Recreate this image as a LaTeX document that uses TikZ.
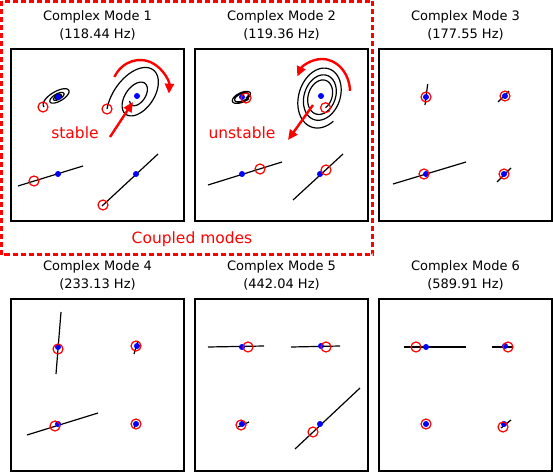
\documentclass[tikz,border=0pt]{standalone}
\usepackage{fontspec}
\setmainfont{DejaVu Sans}
\usetikzlibrary{positioning,arrows.meta}

% rest positions of the four masses in one panel
\newcommand{\restpts}[1]{%
  \foreach \n/\x/\y in {a/47/-48, b/126/-47, c/47/-125, d/125/-125}
    {\node[eqdot] (e#1\n) at (\x,\y) {};}}

\begin{document}
\begin{tikzpicture}
[x=1pt,y=1pt,
 panel/.style={draw=black, line width=1.3pt, minimum width=173pt, minimum height=172pt, inner sep=0pt, outer sep=0pt},
 title/.style={align=center, inner sep=0pt, font=\fontsize{13}{17.3}\selectfont},
 eqdot/.style={circle, fill=blue, inner sep=0pt, minimum size=6pt},
 startpt/.style={circle, draw=red, line width=1.2pt, inner sep=0pt, minimum size=10pt},
 traj/.style={black, line width=1.2pt},
 note/.style={text=red, inner sep=0pt, font=\fontsize{15.5}{18}\selectfont},
 spin/.style={red, line width=2.4pt, -{Triangle[length=10pt,width=9pt]}}]
\useasboundingbox (0,0) rectangle (553,-473);

% frames and titles
\foreach \i/\x/\y/\f in {1/11/49/118.44, 2/195/49/119.36, 3/379/49/177.55,
                         4/11/299/233.13, 5/195/299/442.04, 6/379/299/589.91}
{
  \node[panel] (p\i) at (\x+86.5,-\y-86) {};
  \node[title, above=9pt of p\i] (t\i) {Complex Mode \i\\(\f\ Hz)};
}

% coupled pair
\draw[red, line width=2.2pt, dash pattern=on 5pt off 3pt] (1.5,-1.5) rectangle (372.5,-254.5);
\node[note] (coupled) at (192,-239) {Coupled modes};

% mode 1
\begin{scope}[shift={(11,-49)}]
  \begin{scope}[shift={(47,-48)}, rotate=30]
    \draw[traj] plot[domain=0:1300, samples=200, smooth, variable=\t]
      ({17.4*exp(-\t/600)*cos(193-\t)}, {7.25*exp(-\t/600)*sin(193-\t)});
  \end{scope}
  \begin{scope}[shift={(126,-47)}, rotate=55]
    \draw[traj] plot[domain=0:707, samples=200, smooth, variable=\t]
      ({39.85*exp(-\t/500)*cos(134.3-\t)}, {23.9*exp(-\t/500)*sin(134.3-\t)});
  \end{scope}
  \draw[traj] (7,-137) -- (72,-117);
  \draw[traj] (91,-157) -- (147,-105);
  \restpts{1}
  \node[startpt] (s1a) at (32,-58) {};
  \node[startpt] (s1b) at (96,-60) {};
  \node[startpt] (s1c) at (23,-132) {};
  \node[startpt] (s1d) at (92,-156) {};
  \coordinate (c1) at (129,-43);
  \draw[spin] (c1) ++(152:29 and 32) arc[start angle=152, end angle=-3, x radius=29, y radius=32];
  \node[note] (stab) at (64,-84) {stable};
  \coordinate (stabS) at (99,-88);
  \coordinate (stabT) at (122,-53);
  \draw[spin] (stabS) -- (stabT);
\end{scope}

% mode 2
\begin{scope}[shift={(195,-49)}]
  \begin{scope}[shift={(47,-48)}, rotate=25]
    \draw[traj] plot[domain=0:720, samples=200, smooth, variable=\t]
      ({6.63*exp(\t/1300)*cos(-61+\t)}, {2.98*exp(\t/1300)*sin(-61+\t)});
  \end{scope}
  \begin{scope}[shift={(126,-47)}, rotate=72]
    \draw[traj] plot[domain=0:1085, samples=240, smooth, variable=\t]
      ({14.67*exp(\t/1300)*cos(228.4+\t)}, {10.56*exp(\t/1300)*sin(228.4+\t)});
  \end{scope}
  \draw[traj] (13,-136) -- (87,-113);
  \draw[traj] (98,-151) -- (148,-105);
  \restpts{2}
  \node[startpt] (s2a) at (51,-49) {};
  \node[startpt] (s2b) at (130.5,-58.7) {};
  \node[startpt] (s2c) at (65,-120) {};
  \node[startpt] (s2d) at (131,-121) {};
  \coordinate (c2) at (127,-43);
  \draw[spin] (c2) ++(2:28 and 33) arc[start angle=2, end angle=152, x radius=28, y radius=33];
  \node[note] (unstab) at (47,-84) {unstable};
  \coordinate (unstabS) at (118,-56);
  \coordinate (unstabT) at (93,-91);
  \draw[spin] (unstabS) -- (unstabT);
\end{scope}

% mode 3
\begin{scope}[shift={(379,-49)}]
  \draw[traj] (48.7,-35) -- (46,-56);
  \draw[traj] (119,-53) -- (130,-42);
  \draw[traj] (14,-135) -- (87,-113);
  \draw[traj] (118,-133) -- (132,-119);
  \restpts{3}
  \node[startpt] (s3a) at (47,-48) {};
  \node[startpt] (s3b) at (126,-47) {};
  \node[startpt] (s3c) at (45,-125) {};
  \node[startpt] (s3d) at (125,-125) {};
\end{scope}

% mode 4
\begin{scope}[shift={(11,-299)}]
  \draw[traj] (50,-13) -- (45,-75);
  \draw[traj] (127,-42) -- (123,-55);
  \draw[traj] (16,-136) -- (87,-114);
  \draw[traj] (123,-129) -- (127,-123);
  \restpts{4}
  \node[startpt] (s4a) at (47,-50) {};
  \node[startpt] (s4b) at (125,-47) {};
  \node[startpt] (s4c) at (44,-127) {};
  \node[startpt] (s4d) at (125,-125) {};
\end{scope}

% mode 5
\begin{scope}[shift={(195,-299)}]
  \draw[traj] (13,-48) -- (69,-47);
  \draw[traj] (96,-48) -- (145,-47);
  \draw[traj] (43,-128) -- (54,-123);
  \draw[traj] (100,-150) -- (165,-89);
  \restpts{5}
  \node[startpt] (s5a) at (53,-48) {};
  \node[startpt] (s5b) at (131,-48) {};
  \node[startpt] (s5c) at (46,-126) {};
  \node[startpt] (s5d) at (118,-133) {};
\end{scope}

% mode 6
\begin{scope}[shift={(379,-299)}]
  \draw[traj] (25,-48) -- (87,-48);
  \draw[traj] (113,-48) -- (134,-48);
  \draw[traj] (122,-129) -- (132,-121);
  \restpts{6}
  \node[startpt] (s6a) at (37,-48) {};
  \node[startpt] (s6b) at (129,-48) {};
  \node[startpt] (s6c) at (47,-125) {};
  \node[startpt] (s6d) at (124,-128) {};
\end{scope}
\end{tikzpicture}
\end{document}
